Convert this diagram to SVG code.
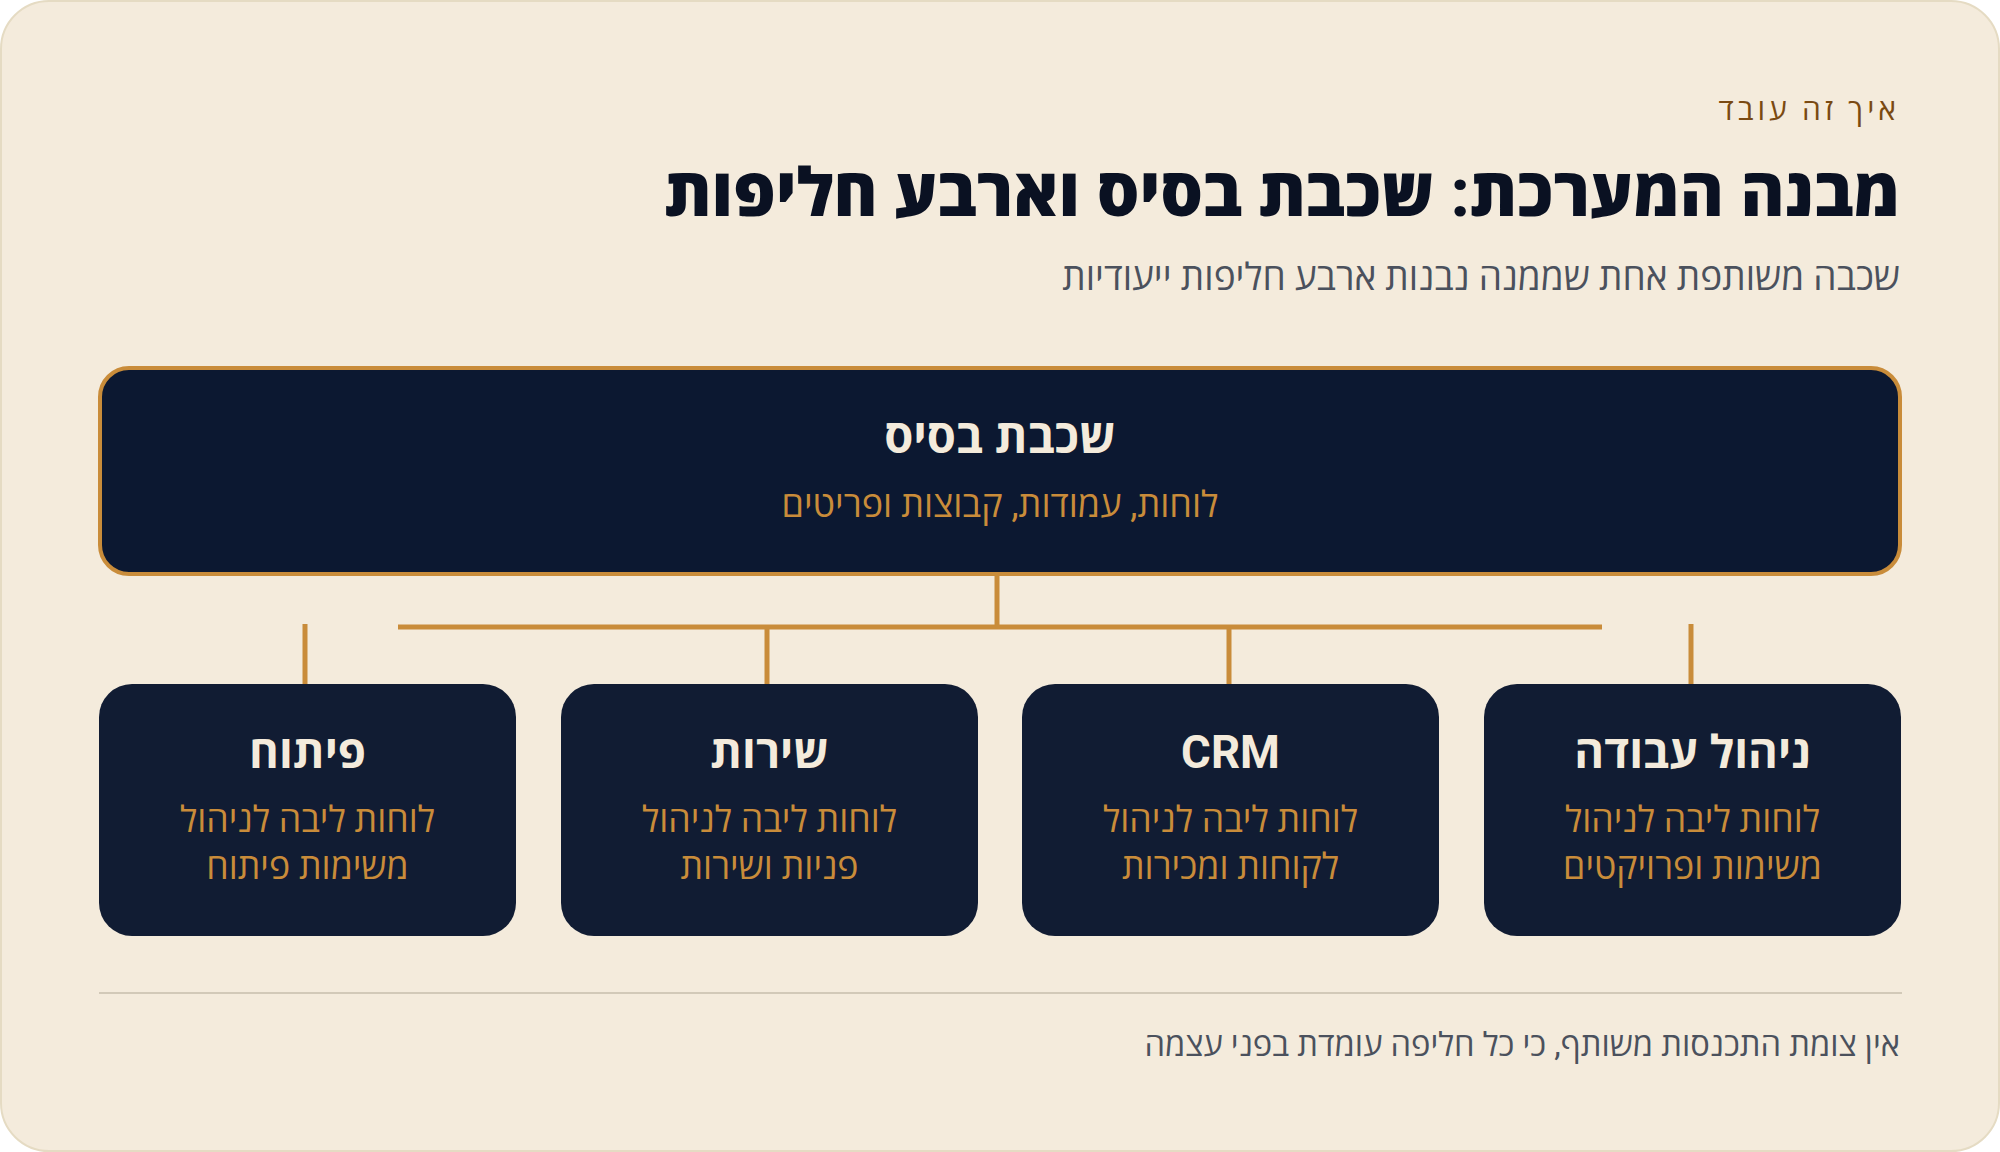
<svg xmlns="http://www.w3.org/2000/svg" width="2000" height="1152" viewBox="0 0 2000 1152">
<style>
text{font-family:Roboto,"Noto Sans","Open Sans",sans-serif}
.eyebrow{font-size:30px;fill:#7A4A12;letter-spacing:4px}
.title{font-size:67px;font-weight:800;fill:#0A1122}
.sub{font-size:37px;fill:#4B515D}
.boxtitle{font-size:45.5px;font-weight:700;fill:#F4EBDC;text-anchor:middle}
.boxsub{font-size:35.7px;fill:#C98C3A;text-anchor:middle}
.child{fill:#111C33}
.conn{stroke:#C98C3A;stroke-width:5;fill:none}
.foot{font-size:32.7px;fill:#4B515D}
</style>
<rect width="2000" height="1152" fill="#FFFFFF"/>
<rect x="1" y="1" width="1998" height="1150" rx="48" fill="#F4EBDC" stroke="#E5DBC3" stroke-width="2"/>
<g id="header">
<text class="eyebrow" x="1900" y="120" text-anchor="end">איך זה עובד</text>
<text class="title" x="1900" y="216" text-anchor="end">מבנה המערכת: שכבת בסיס וארבע חליפות</text>
<text class="sub" x="1900" y="290" text-anchor="end">שכבה משותפת אחת שממנה נבנות ארבע חליפות ייעודיות</text>
</g>
<g id="base">
<rect x="100" y="368" width="1800" height="206" rx="29" fill="#0C1831" stroke="#C98C3A" stroke-width="4"/>
<text class="boxtitle" x="1000" y="453" style="font-size:47px">שכבת בסיס</text>
<text class="boxsub" x="1000" y="517" style="font-size:36px">לוחות, עמודות, קבוצות ופריטים</text>
</g>
<g id="connectors">
<line class="conn" x1="997" y1="574" x2="997" y2="627"/>
<line class="conn" x1="398" y1="627" x2="1602" y2="627"/>
<line class="conn" x1="305" y1="624" x2="305" y2="684"/>
<line class="conn" x1="767" y1="627" x2="767" y2="684"/>
<line class="conn" x1="1229" y1="627" x2="1229" y2="684"/>
<line class="conn" x1="1691" y1="624" x2="1691" y2="684"/>
</g>
<g id="node-dev">
<rect class="child" x="99" y="684" width="417" height="252" rx="33"/>
<text class="boxtitle" x="307.5" y="768">פיתוח</text>
<text class="boxsub" x="307.5" y="832">לוחות ליבה לניהול</text>
<text class="boxsub" x="307.5" y="879">משימות פיתוח</text>
</g>
<g id="node-service">
<rect class="child" x="561" y="684" width="417" height="252" rx="33"/>
<text class="boxtitle" x="769.5" y="768">שירות</text>
<text class="boxsub" x="769.5" y="832">לוחות ליבה לניהול</text>
<text class="boxsub" x="769.5" y="879">פניות ושירות</text>
</g>
<g id="node-crm">
<rect class="child" x="1022" y="684" width="417" height="252" rx="33"/>
<text class="boxtitle" x="1230.5" y="768">CRM</text>
<text class="boxsub" x="1230.5" y="832">לוחות ליבה לניהול</text>
<text class="boxsub" x="1230.5" y="879">לקוחות ומכירות</text>
</g>
<g id="node-work">
<rect class="child" x="1484" y="684" width="417" height="252" rx="33"/>
<text class="boxtitle" x="1692.5" y="768">ניהול עבודה</text>
<text class="boxsub" x="1692.5" y="832">לוחות ליבה לניהול</text>
<text class="boxsub" x="1692.5" y="879">משימות ופרויקטים</text>
</g>
<g id="footer">
<line x1="99" y1="993" x2="1902" y2="993" stroke="#D2C9B8" stroke-width="2"/>
<text class="foot" x="1900" y="1056" text-anchor="end">אין צומת התכנסות משותף, כי כל חליפה עומדת בפני עצמה</text>
</g>
</svg>
